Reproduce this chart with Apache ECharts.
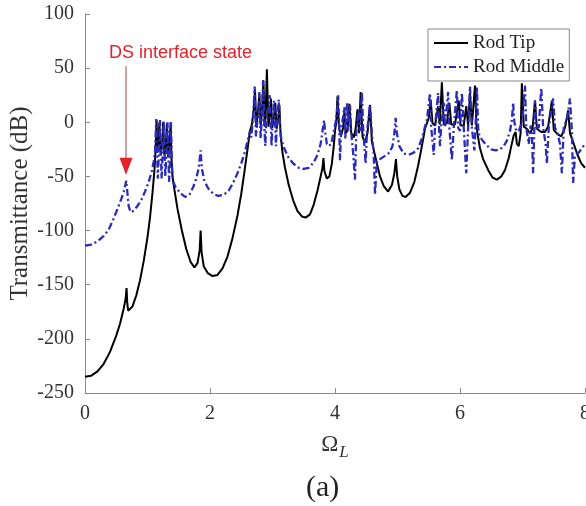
<!DOCTYPE html>
<html>
<head>
<meta charset="utf-8">
<script src="https://cdn.jsdelivr.net/npm/echarts@6.0.0/dist/echarts.min.js"></script>
<style>
html,body{margin:0;padding:0;background:#fff;}
#chart{width:586px;height:506px;}
</style>
</head>
<body>
<div id="chart"></div>
<script>
var seriesNames = ['Rod Tip', 'Rod Middle'];
var xTicks = [0, 2, 4, 6, 8];
var yTicks = [-250, -200, -150, -100, -50, 0, 50, 100];

var tipOmega = [0,0.1,0.2,0.3,0.4,0.5,0.56,0.62,0.65,0.665,0.675,0.69,0.72,0.76,0.82,0.88,0.94,1.0,1.04,1.08,1.11,1.13,
1.145,1.16,1.175,1.19,1.21,1.235,1.25,1.27,1.29,1.31,1.33,1.35,1.37,1.385,
1.4,1.43,1.48,1.55,1.62,1.69,1.75,1.8,1.835,1.85,1.865,1.9,1.96,2.04,2.12,2.2,2.28,2.36,2.44,2.5,2.55,2.6,2.64,
2.67,2.7,2.72,2.74,2.76,2.79,2.81,2.83,2.855,2.875,2.89,2.91,2.935,2.95,2.975,2.995,3.02,3.045,3.065,3.09,3.11,3.13,
3.16,3.2,3.26,3.33,3.4,3.47,3.53,3.6,3.66,3.72,3.77,3.8,3.815,3.83,3.87,3.91,3.95,3.98,4.0,
4.02,4.04,4.065,4.1,4.13,4.15,4.17,4.2,4.23,4.26,4.3,4.33,4.36,4.385,4.41,4.44,4.48,4.52,4.56,4.59,4.63,
4.67,4.72,4.78,4.85,4.91,4.95,4.975,4.995,5.03,5.08,5.13,5.2,5.27,5.33,5.39,5.44,
5.47,5.5,5.53,5.56,5.6,5.65,5.675,5.71,5.74,5.79,5.83,5.86,5.92,5.98,6.01,6.06,6.1,6.13,6.16,6.19,6.22,6.24,6.265,6.29,
6.32,6.37,6.45,6.52,6.59,6.66,6.72,6.78,6.82,6.86,6.89,6.91,6.94,6.97,
6.99,7.02,7.07,7.12,7.16,7.2,7.23,7.3,7.36,7.41,7.47,7.5,7.56,7.62,7.68,7.73,7.76,7.82,7.88,7.94,8.0];
var tipDb = [-235,-234,-230,-223,-212,-197,-186,-172,-163,-153,-166,-174,-175,-170,-160,-146,-128,-106,-88,-65,-45,-25,
2,-28,-22,0,-30,-22,0,-30,-24,-1,-32,-26,0,-35,
-50,-62,-80,-100,-117,-129,-134,-130,-118,-100,-120,-133,-139,-142,-141,-135,-124,-107,-86,-66,-46,-25,-8,
-2,12,30,-3,5,26,-3,8,38,-4,5,49,-4,3,22,-5,3,18,-6,2,16,-12,
-28,-42,-58,-72,-82,-87,-88,-85,-76,-63,-50,-42,-33,-45,-52,-50,-38,-22,-8,
0,24,-6,-12,-5,10,-10,-8,17,-10,-14,-6,12,-10,28,-13,-19,-10,16,-18,-28,
-38,-50,-59,-64,-58,-47,-34,-50,-62,-68,-69,-65,-55,-40,-22,-6,
-1,4,21,-1,-3,15,-2,37,-2,-1,18,-2,-2,20,-3,-3,15,-3,27,-3,-2,34,-5,-14,
-24,-34,-44,-51,-53,-50,-44,-33,-22,-12,-9,-20,-22,-10,
36,-4,-6,-10,-6,20,-6,-9,-9,-4,20,-7,-11,-13,-5,11,-10,-20,-30,-38,-42];

var midOmega = [0,0.1,0.2,0.3,0.38,0.45,0.52,0.58,0.62,0.645,0.66,0.675,0.7,0.73,0.77,0.83,0.9,0.96,1.02,1.07,1.1,
1.12,1.14,1.155,1.165,1.18,1.2,1.215,1.225,1.24,1.26,1.275,1.285,1.3,1.32,1.335,1.345,1.36,1.375,1.39,1.41,
1.45,1.52,1.6,1.67,1.73,1.78,1.82,1.85,1.87,1.91,1.97,2.05,2.13,2.22,2.3,2.37,2.44,2.5,2.56,2.61,2.64,
2.66,2.69,2.715,2.735,2.755,2.78,2.79,2.81,2.83,2.85,2.87,2.885,2.9,2.93,2.955,2.975,2.985,3.0,3.025,3.045,3.055,3.07,3.1,3.12,3.14,
3.18,3.25,3.33,3.42,3.5,3.58,3.66,3.72,3.77,3.8,3.825,3.845,3.87,3.9,3.94,3.98,4.01,
4.03,4.05,4.065,4.08,4.1,4.13,4.15,4.165,4.18,4.195,4.21,4.24,4.26,4.29,4.32,4.34,4.38,4.4,4.43,4.45,4.49,4.51,4.56,4.59,4.62,4.64,4.67,
4.72,4.8,4.87,4.92,4.95,4.97,4.99,5.03,5.1,5.18,5.26,5.33,5.39,5.44,
5.47,5.52,5.54,5.58,5.6,5.65,5.665,5.68,5.7,5.74,5.76,5.81,5.83,5.87,5.9,5.95,5.97,6.0,6.03,6.06,6.1,6.13,6.16,6.19,6.23,6.25,6.27,6.29,6.31,
6.35,6.42,6.5,6.57,6.64,6.7,6.75,6.8,6.83,6.85,6.87,6.9,6.94,6.98,
7.01,7.04,7.06,7.1,7.13,7.15,7.17,7.19,7.2,7.22,7.26,7.3,7.33,7.37,7.39,7.42,7.49,7.52,7.56,7.6,7.63,7.66,7.72,7.76,7.79,7.81,7.84,7.9,7.95,8.0];
var midDb = [-114,-113,-110,-105,-99,-90,-80,-71,-64,-58,-54,-63,-78,-83,-82,-78,-72,-64,-55,-45,-36,
-28,3,-30,-52,-32,2,-30,-52,-32,1,-30,-50,-32,0,-30,-55,-35,0,-40,-55,
-60,-65,-69,-67,-60,-52,-42,-26,-43,-54,-61,-66,-68,-67,-63,-56,-47,-38,-27,-15,-8,
-14,5,33,-13,0,10,28,-15,5,39,-5,-22,0,8,25,-5,-22,0,20,-5,-22,0,21,-5,-15,
-23,-32,-38,-42,-43,-42,-37,-30,-20,-8,2,-10,-20,-22,-20,-8,0,
8,25,0,-35,-5,5,14,-15,5,18,-8,16,-10,-28,-53,-10,12,-8,28,-5,-38,-10,16,-10,-30,-67,-36,
-34,-31,-28,-22,-10,4,-10,-22,-29,-30,-28,-24,-15,-4,
2,27,-5,-30,-5,27,-5,-22,-3,18,-5,28,-5,-35,-5,30,-5,-8,27,-5,-47,-5,33,-5,-26,-3,33,-5,-12,
-16,-21,-25,-26,-25,-22,-17,-8,2,18,0,-8,-8,-2,
10,34,-5,-20,-3,-10,-47,-5,20,-5,-5,32,-5,-20,-38,-5,22,-5,-10,-20,-47,-5,5,22,-8,-56,-30,-28,-24,-20];

// annotation (data coordinates)
var annoOmega = 0.656;
var annoTopDb = 52;
var annoLineEndDb = -33;
var annoHeadDb = -40.5;

function zip(xs, ys) { return xs.map(function (x, i) { return [x, ys[i]]; }); }

var serif = '"Liberation Serif", "Times New Roman", serif';
var chart = echarts.init(document.getElementById('chart'), null, { renderer: 'canvas' });
chart.setOption({
  animation: false,
  backgroundColor: '#fff',
  grid: { left: 85, right: 1, top: 14, bottom: 113, containLabel: false, outerBoundsMode: 'none' },
  xAxis: {
    type: 'value', min: xTicks[0], max: xTicks[xTicks.length - 1], interval: 2,
    name: '{o|Ω}{s|L}', nameLocation: 'middle', nameGap: 35, nameMoveOverlap: false,
    nameTextStyle: {
      rich: {
        o: { fontFamily: serif, fontSize: 23, color: '#333' },
        s: { fontFamily: serif, fontSize: 17, fontStyle: 'italic', color: '#333', padding: [16, 0, 0, 1] }
      }
    },
    axisLine: { show: true, onZero: false, lineStyle: { color: '#8a8a8a', width: 1 } },
    axisTick: { show: true, inside: true, length: 5, lineStyle: { color: '#8a8a8a' } },
    axisLabel: { fontFamily: serif, fontSize: 20, color: '#333', margin: 11 },
    splitLine: { show: false }
  },
  yAxis: {
    type: 'value', min: yTicks[0], max: yTicks[yTicks.length - 1], interval: 50,
    name: 'Transmittance (dB)', nameLocation: 'middle', nameGap: 52, nameMoveOverlap: false,
    nameTextStyle: { fontFamily: serif, fontSize: 25, color: '#333' },
    axisLine: { show: true, onZero: false, lineStyle: { color: '#8a8a8a', width: 1 } },
    axisTick: { show: true, inside: true, length: 5, lineStyle: { color: '#8a8a8a' } },
    axisLabel: { fontFamily: serif, fontSize: 20, color: '#333', margin: 11 },
    splitLine: { show: false }
  },
  legend: {
    data: seriesNames,
    orient: 'vertical',
    left: 428, top: 29,
    padding: [4, 5, 4, 5],
    itemWidth: 34, itemHeight: 14, itemGap: 4,
    itemStyle: { opacity: 0 },
    borderColor: '#888', borderWidth: 1, borderRadius: 0,
    backgroundColor: '#fff',
    textStyle: { fontFamily: serif, fontSize: 19, color: '#222', lineHeight: 20, padding: [0, 0, 0, 0] }
  },
  graphic: [
    { type: 'text', left: 109, top: 44, z: 100,
      style: { text: 'DS interface state', fill: '#e3222b', font: '18px "Liberation Sans", Arial, sans-serif' } },
    { type: 'text', left: 306, top: 473, z: 100,
      style: { text: '(a)', fill: '#222', font: '30px "Liberation Serif", "Times New Roman", serif' } }
  ],
  series: [
    {
      name: seriesNames[0], type: 'line', data: zip(tipOmega, tipDb),
      symbol: 'none', showSymbol: false, smooth: false,
      lineStyle: { color: '#000', width: 2 }, itemStyle: { color: '#000' }, z: 2
    },
    {
      name: seriesNames[1], type: 'line', data: zip(midOmega, midDb),
      symbol: 'none', showSymbol: false, smooth: false,
      lineStyle: { color: '#2b2bbb', width: 2.3, type: [7, 3, 2, 3] }, itemStyle: { color: '#2b2bbb' }, z: 3,
      markLine: {
        silent: true, symbol: ['none', 'none'], animation: false,
        label: { show: false },
        lineStyle: { color: '#c48c8c', width: 1.6, type: 'solid' },
        data: [[{ coord: [annoOmega, annoTopDb] }, { coord: [annoOmega, annoLineEndDb] }]]
      },
      markPoint: {
        silent: true, symbol: 'triangle', symbolSize: [13, 17], symbolRotate: 180,
        itemStyle: { color: '#e3222b' }, label: { show: false },
        data: [{ coord: [annoOmega, annoHeadDb] }]
      }
    }
  ]
});
</script>
</body>
</html>
